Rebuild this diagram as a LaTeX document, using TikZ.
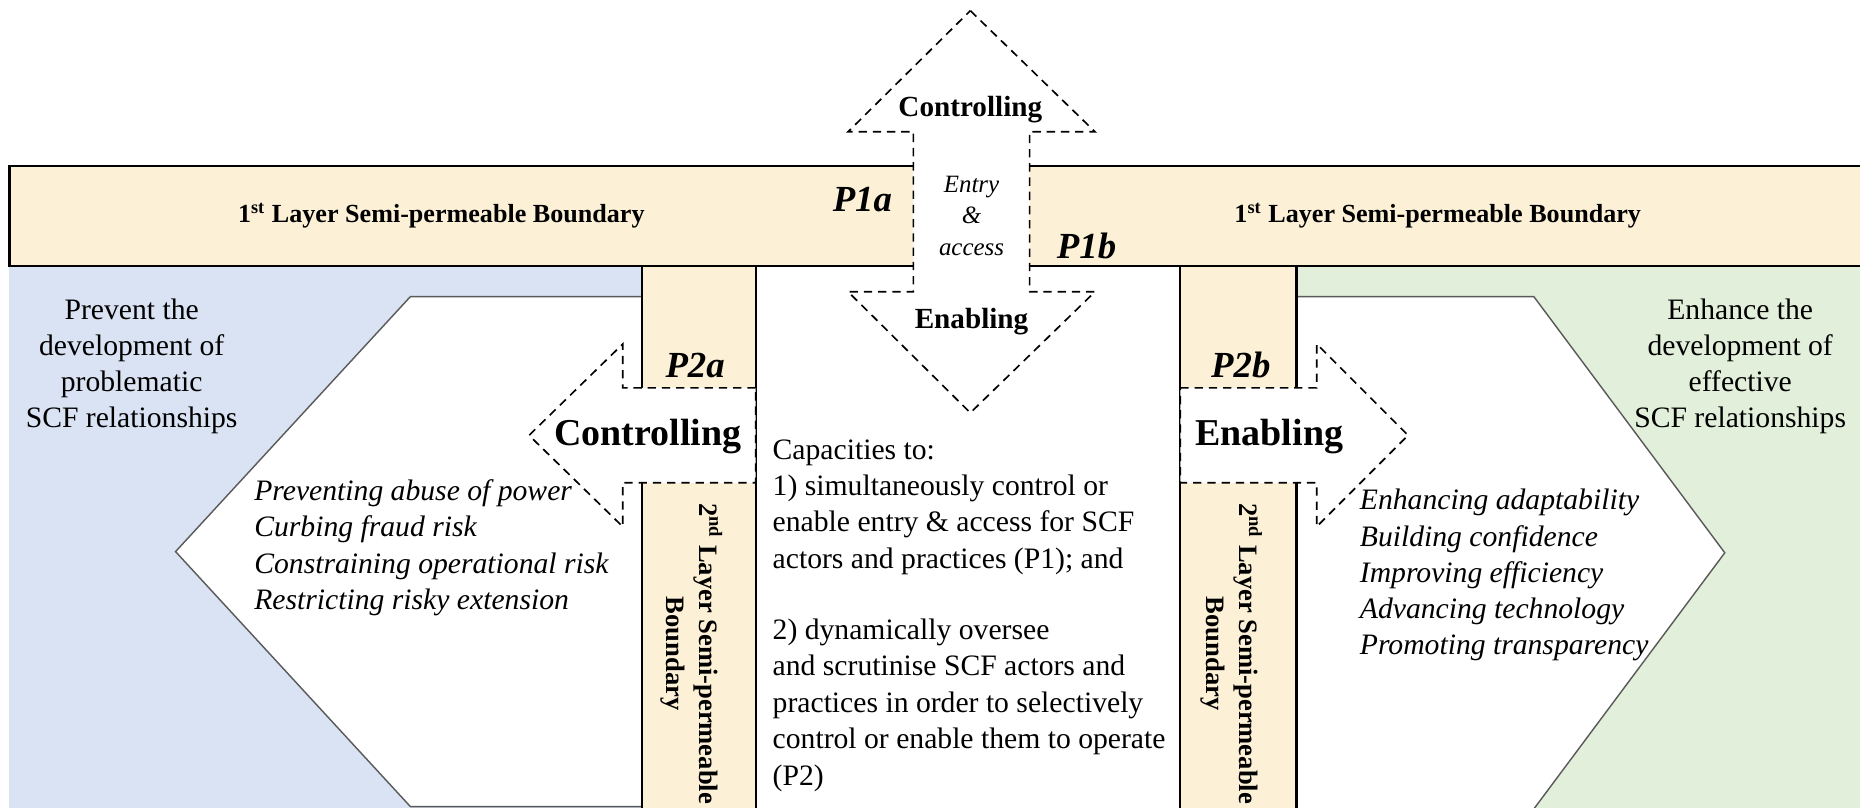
\documentclass[tikz,border=0pt]{standalone}
\usepackage{fontspec}
\setmainfont{Liberation Serif}
\definecolor{parchment}{RGB}{252,240,214}
\definecolor{paleblue}{RGB}{218,227,243}
\definecolor{palegreen}{RGB}{226,239,218}
\definecolor{edgegrey}{RGB}{90,90,90}
\tikzset{
		layer/.style={draw=black, line width=0.9pt, fill=parchment},
		pentagon/.style={draw=edgegrey, line width=0.6pt, fill=white},
		gate/.style={draw=black, fill=white, dashed, dash pattern=on 3.5pt off 2.5pt, line width=0.7pt},
		layer label/.style={inner sep=0pt, font=\bfseries\fontsize{11}{13}\selectfont},
		layer label vertical/.style={inner sep=0pt, rotate=-90, align=center, font=\bfseries\fontsize{11.2}{14}\selectfont},
		prop label/.style={inner sep=0pt, font=\bfseries\itshape\fontsize{15.5}{17}\selectfont},
		gate label/.style={inner sep=0pt, font=\bfseries\fontsize{12.3}{14}\selectfont},
		big gate label/.style={inner sep=0pt, font=\bfseries\fontsize{16}{18}\selectfont},
		outcome text/.style={inner sep=0pt, align=center, font=\fontsize{12.5}{15.2}\selectfont},
		effect list/.style={inner sep=0pt, anchor=north west, align=left, font=\itshape\fontsize{12.5}{15.3}\selectfont}
	}

\begin{document}
\begin{tikzpicture}[x=0.5pt,y=-0.5pt]
	\useasboundingbox (0,0) rectangle (1568,681);

	% outcome areas
	\fill[paleblue]  (8,224)    rectangle (541,690);
	\fill[palegreen] (1093,224) rectangle (1580,690);
	\filldraw[pentagon] (541,250) -- (346,250) -- (148,465) -- (346,680) -- (541,680);
	\filldraw[pentagon] (1093,250) -- (1293,250) -- (1454,466) -- (1293,682) -- (1093,682);

	% 2nd layer and centre
	\filldraw[layer] (541,224) rectangle (637,690);
	\filldraw[layer] (995,224) rectangle (1093,690);
	\filldraw[draw=black, line width=0.9pt, fill=white] (637,224) rectangle (995,690);

	% 1st layer
	\filldraw[layer] (8,140) rectangle (1580,224);

	% dashed gates
	\filldraw[gate] (818,9) -- (923,111) -- (868,111) -- (868,246) -- (923,246) -- (818,348)
		-- (715,246) -- (770,246) -- (770,111) -- (715,111) -- cycle;
	\filldraw[gate] (637,327) -- (525,327) -- (525,290) -- (446,367) -- (525,444) -- (525,407) -- (637,407) -- cycle;
	\filldraw[gate] (995,327) -- (1110,327) -- (1110,290) -- (1187,367) -- (1110,444) -- (1110,407) -- (995,407) -- cycle;

	\node[layer label] (l1left)  at (372,182)  {1\textsuperscript{st} Layer Semi-permeable Boundary};
	\node[layer label] (l1right) at (1212,182) {1\textsuperscript{st} Layer Semi-permeable Boundary};
	\node[layer label vertical] (l2left)  at (583,551)  {2\textsuperscript{nd} Layer Semi-permeable\\Boundary};
	\node[layer label vertical] (l2right) at (1038,551) {2\textsuperscript{nd} Layer Semi-permeable\\Boundary};

	\node[prop label] (p1a) at (727,168)  {P1a};
	\node[prop label] (p1b) at (916,207)  {P1b};
	\node[prop label] (p2a) at (586,308)  {P2a};
	\node[prop label] (p2b) at (1046,308) {P2b};

	\node[gate label] (upctrl) at (818,92)  {Controlling};
	\node[gate label] (downen) at (819,271) {Enabling};
	\node[inner sep=0pt, align=center, font=\itshape\fontsize{10.5}{13.2}\selectfont] (entry) at (819,182) {Entry\\\&\\access};
	\node[big gate label] (leftctrl) at (546,368)  {Controlling};
	\node[big gate label] (righten)  at (1070,368) {Enabling};

	\node[outcome text] (prevent) at (111,309)  {Prevent the\\development of\\problematic\\SCF relationships};
	\node[outcome text] (enhance) at (1467,309) {Enhance the\\development of\\effective\\SCF relationships};

	\node[effect list] (ctrllist) at (214,404) {Preventing abuse of power\\Curbing fraud risk\\Constraining operational risk\\Restricting risky extension};
	\node[effect list] (enlist) at (1146,412) {Enhancing adaptability\\Building confidence\\Improving efficiency\\Advancing technology\\Promoting transparency};

	\node[inner sep=0pt, anchor=north west, align=left, font=\fontsize{12.5}{15.35}\selectfont] (capacities) at (651,370)
		{Capacities to:\\1) simultaneously control or\\enable entry \& access for SCF\\actors and practices (P1); and\\[14.6pt]
		2) dynamically oversee\\and scrutinise SCF actors and\\practices in order to selectively\\control or enable them to operate\\(P2)};
\end{tikzpicture}
\end{document}
